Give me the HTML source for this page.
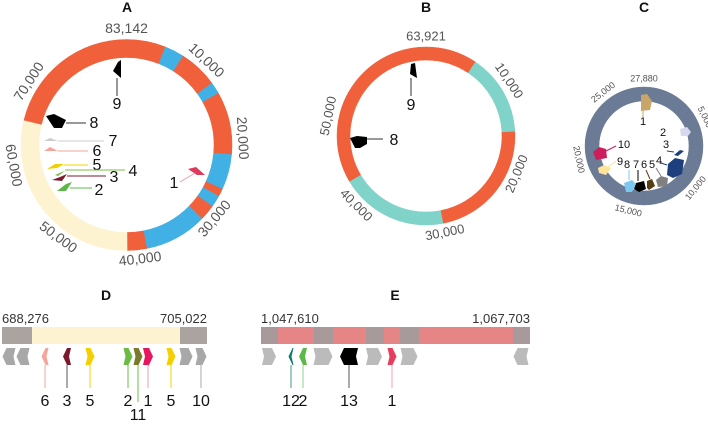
<!DOCTYPE html>
<html><head><meta charset="utf-8"><style>
body{margin:0;background:#fff;}
svg{display:block;font-family:"Liberation Sans","DejaVu Sans",sans-serif;}
.title{font-size:14px;font-weight:bold;fill:#111;}
</style></head><body>
<svg id="s" width="708" height="424" viewBox="0 0 708 424">
<text class="title" x="127" y="12" text-anchor="middle">A</text>
<text class="title" x="426" y="12" text-anchor="middle">B</text>
<text class="title" x="644" y="12" text-anchor="middle">C</text>
<text class="title" x="106" y="300" text-anchor="middle">D</text>
<text class="title" x="395" y="300" text-anchor="middle">E</text>
<g id="g"></g>
</svg>
<script>
const aTotal = 83142;
const aStarts = [0,5000,7500,12500,14000,22000,26500,27500,29000,31000,39000,41500,65500];
const aEnds   = [5000,7500,12500,14000,22000,26500,27500,29000,31000,39000,41500,65500,83142];
const aTypes  = ['o','b','o','b','o','b','o','b','o','b','o','c','o'];
const aTicks = [10000,20000,30000,40000,50000,60000,70000];
const bTotal = 63921;
const bStarts = [0,6000,15500,30000,42500];
const bEnds = [6000,15500,30000,42500,63921];
const bTypes = ['o','t','o','t','o'];
const bTicks = [10000,20000,30000,40000,50000];
const cTotal = 27880;
const cStarts = [0,13940];
const cEnds = [13940,27880];
const cTypes = ['g','g'];
const cTicks = [5000,10000,15000,20000,25000];
const colors = {o:'#f0603a',b:'#41b0e4',c:'#fdf3d0',t:'#7fd3c8',g:'#6b7b95'};
const NS='http://www.w3.org/2000/svg';
const G=document.getElementById('g');
function el(tag,attrs,txt){const e=document.createElementNS(NS,tag);for(const k in attrs)e.setAttribute(k,attrs[k]);if(txt!==undefined)e.textContent=txt;G.appendChild(e);return e;}
function pt(cx,cy,r,a){const t=(a-90)*Math.PI/180;return [cx+r*Math.cos(t),cy+r*Math.sin(t)];}
function arc(cx,cy,r1,r2,a1,a2){const l=(a2-a1)>180?1:0;const p1=pt(cx,cy,r2,a1),p2=pt(cx,cy,r2,a2),p3=pt(cx,cy,r1,a2),p4=pt(cx,cy,r1,a1);
return `M${p1}A${r2},${r2} 0 ${l} 1 ${p2}L${p3}A${r1},${r1} 0 ${l} 0 ${p4}Z`;}
function ring(cx,cy,ro,w,total,starts,ends,types,ticks,fs,lr,name){
  for(let i=0;i<starts.length;i++){
    const p=el('path',{d:arc(cx,cy,ro-w,ro,starts[i]/total*360,ends[i]/total*360),fill:colors[types[i]],stroke:colors[types[i]],'stroke-width':0.5});
    
    
  }
  const all=ticks.concat([total]);
  all.forEach(v=>{const a=v/total*360%360;const q=pt(cx,cy,ro+lr,a);
    let rot=a; if(a>90&&a<270)rot=a-180; if(a>=270)rot=a-360;
    const t=el('text',{x:q[0],y:q[1],'text-anchor':'middle','dominant-baseline':'middle','font-size':fs,fill:'#555',transform:`rotate(${rot} ${q[0]} ${q[1]})`},v.toLocaleString('en-US'));
    
    
  });
}
ring(126.5,145,105.5,18,aTotal,aStarts,aEnds,aTypes,aTicks,'14px',10,'ring-a');
ring(426,136,89,13,bTotal,bStarts,bEnds,bTypes,bTicks,'13px',10,'ring-b');
ring(644,146,59,14,cTotal,cStarts,cEnds,cTypes,cTicks,'9px',8,'ring-c');

function feat(points,fill,line,lbl,lx,ly,lc,fs){
  const p=el('polygon',{points:points,fill:fill});
  
  
  if(line){const l=el('polyline',{points:line,fill:'none',stroke:lc||'#333','stroke-width':1});
    
    }
  const t=el('text',{x:lx,y:ly,'text-anchor':'middle','font-size':fs||'16px',fill:'#111'},lbl);
  
  
}
feat('118,62 121,60 121,78 113,71','#000','117,78 117,96','9',117,109);
feat('46,116 54,114 66,120 62,128 54,128','#000','66,123 86,123','8',94,128);
feat('44,141 50,138 58,141','#ccc','58,141 104,141','7',113,146,'#ccc');
feat('44,151 50,147 58,151','#f4a59a','58,151 88,151','6',97,156,'#f4a59a');
feat('47,169 55,164 64,164 57,168','#f5d000','64,165 88,165','5',97,170,'#f5d000');
feat('55,175 62,172 65,171 58,176','#7bbf4a','65,170 125,170','4',133,176,'#7bbf4a');
feat('52,180 60,177 67,174 62,181','#7b1a2e','67,176 106,176','3',114,182,'#7b1a2e');
feat('57,191 66,184 72,182 66,191','#5db84a','70,188 92,188','2',99,195,'#5db84a');
feat('188,169 196,167 205,175 197,175','#e03a5a','195,173 180,182','1',174,188,'#e6a0a8');
feat('411,64 415,63 417,78 410,74','#000','411,78 411,96','9',411,110);
feat('350,138 357,136 367,137 367,144 360,148 355,148','#000','367,139 383,139','8',394,145);
feat('641,95 647,94 652,101 650,110 641,111','#c9a56a','643,111 643,118','1',643,125,'#c9a56a','11px');
feat('680,129 687,127 691,132 688,136 681,136','#d8d8ee','','2',663,136,'#ccc','11px');
feat('674,155 680,150 684,151 678,156','#1d3f7d','674,152 667,151','3',666,148,'#1d3f7d','11px');
feat('668,164 675,158 684,160 682,174 673,178 667,175','#1d3f7d','667,165 661,163','4',659,164,'#1d3f7d','11px');
feat('656,180 661,176 668,178 667,186 658,187','#808080','661,176 656,168','5',652,168,'#808080','11px');
feat('647,181 652,179 655,186 649,190 647,188','#5a3c14','650,179 646,170','6',644,168,'#5a3c14','11px');
feat('636,183 644,181 646,189 639,192 634,189','#000','638,181 638,170','7',636,168,'#000','11px');
feat('624,183 632,180 636,184 632,192 626,192','#7cc8f0','629,180 629,170','8',627,168,'#7cc8f0','11px');
feat('598,168 604,165 611,168 606,175 599,173','#fce49a','608,167 616,161','9',620,165,'#fce49a','11px');
feat('593,152 599,147 606,149 607,158 596,160','#cc1e5a','606,151 616,146','10',624,148,'#cc1e5a','11px');

const dSegX1=[2,32,180]; const dSegX2=[32,180,207]; const dSegC=['#aaa39f','#fdf3d0','#aaa39f'];
const eSegX1=[261,278,314,333,366,384,400,419,513]; const eSegX2=[278,314,333,366,384,400,419,513,530];
const eSegC=['#a89a9a','#e58585','#a89a9a','#e58585','#a89a9a','#e58585','#a89a9a','#e58585','#a89a9a'];
function bar(x1,x2,c,y,name){for(let i=0;i<x1.length;i++){const r=el('rect',{x:x1[i],y:y,width:x2[i]-x1[i],height:17,fill:c[i]});
  }}
bar(dSegX1,dSegX2,dSegC,327,'region-d-segment');
bar(eSegX1,eSegX2,eSegC,327,'region-e-segment');
[['688,276',2,'start'],['705,022',207,'end'],['1,047,610',261,'start'],['1,067,703',530,'end']].forEach(a=>{
  const t=el('text',{x:a[1],y:323,'text-anchor':a[2],'font-size':'13px',fill:'#333'},a[0]);
  });
function gene(cx,w,c,dir,lbl,ly,lc){
  const x1=cx-w/2,x2=cx+w/2,y1=348,y2=365,m=356.5;
  const pts=dir>0?`${x1},${y1} ${x2-4},${y1} ${x2},${m} ${x2-4},${y2} ${x1},${y2} ${x1+2},${m}`:`${x1+4},${y1} ${x2},${y1} ${x2-2},${m} ${x2},${y2} ${x1+4},${y2} ${x1},${m}`;
  const p=el('polygon',{points:pts,fill:c});
  
  if(lbl){const l=el('line',{x1:cx,y1:365,x2:cx,y2:ly-18,stroke:lc||c,'stroke-width':1});
    
    const t=el('text',{x:cx,y:ly,'text-anchor':'middle','font-size':'16px',fill:'#111'},lbl);
    }
}
gene(9,13,'#a8a8a8',-1);gene(23,13,'#a8a8a8',-1);
gene(45,7,'#f4a59a',0,'6',406);gene(67,8,'#7b1a2e',-1,'3',406,'#555');gene(90,9,'#f5d000',1,'5',406);
gene(128,9,'#6dbb45',1,'2',406);gene(138,9,'#7a7a2a',1,'11',420,'#6dbb45');gene(148,10,'#e8175d',1,'1',406,'#e6a0a8');
gene(171,9,'#f5d000',1,'5',406);gene(186,13,'#a8a8a8',1);gene(201,11,'#a8a8a8',1,'10',406,'#aaa');
gene(269,14,'#bbb',1);gene(291,5,'#0f7a6a',-1,'12',406,'#4a9a7a');gene(303,8,'#5db84a',-1,'2',406,'#8ed08a');
gene(323,19,'#bbb',1);gene(349,18,'#000',-1,'13',406,'#555');gene(374,16,'#bbb',1);gene(392,9,'#e83e5e',1,'1',406,'#f0a0b0');
gene(409,17,'#bbb',1);gene(521,15,'#bbb',0);
</script>
</body></html>
